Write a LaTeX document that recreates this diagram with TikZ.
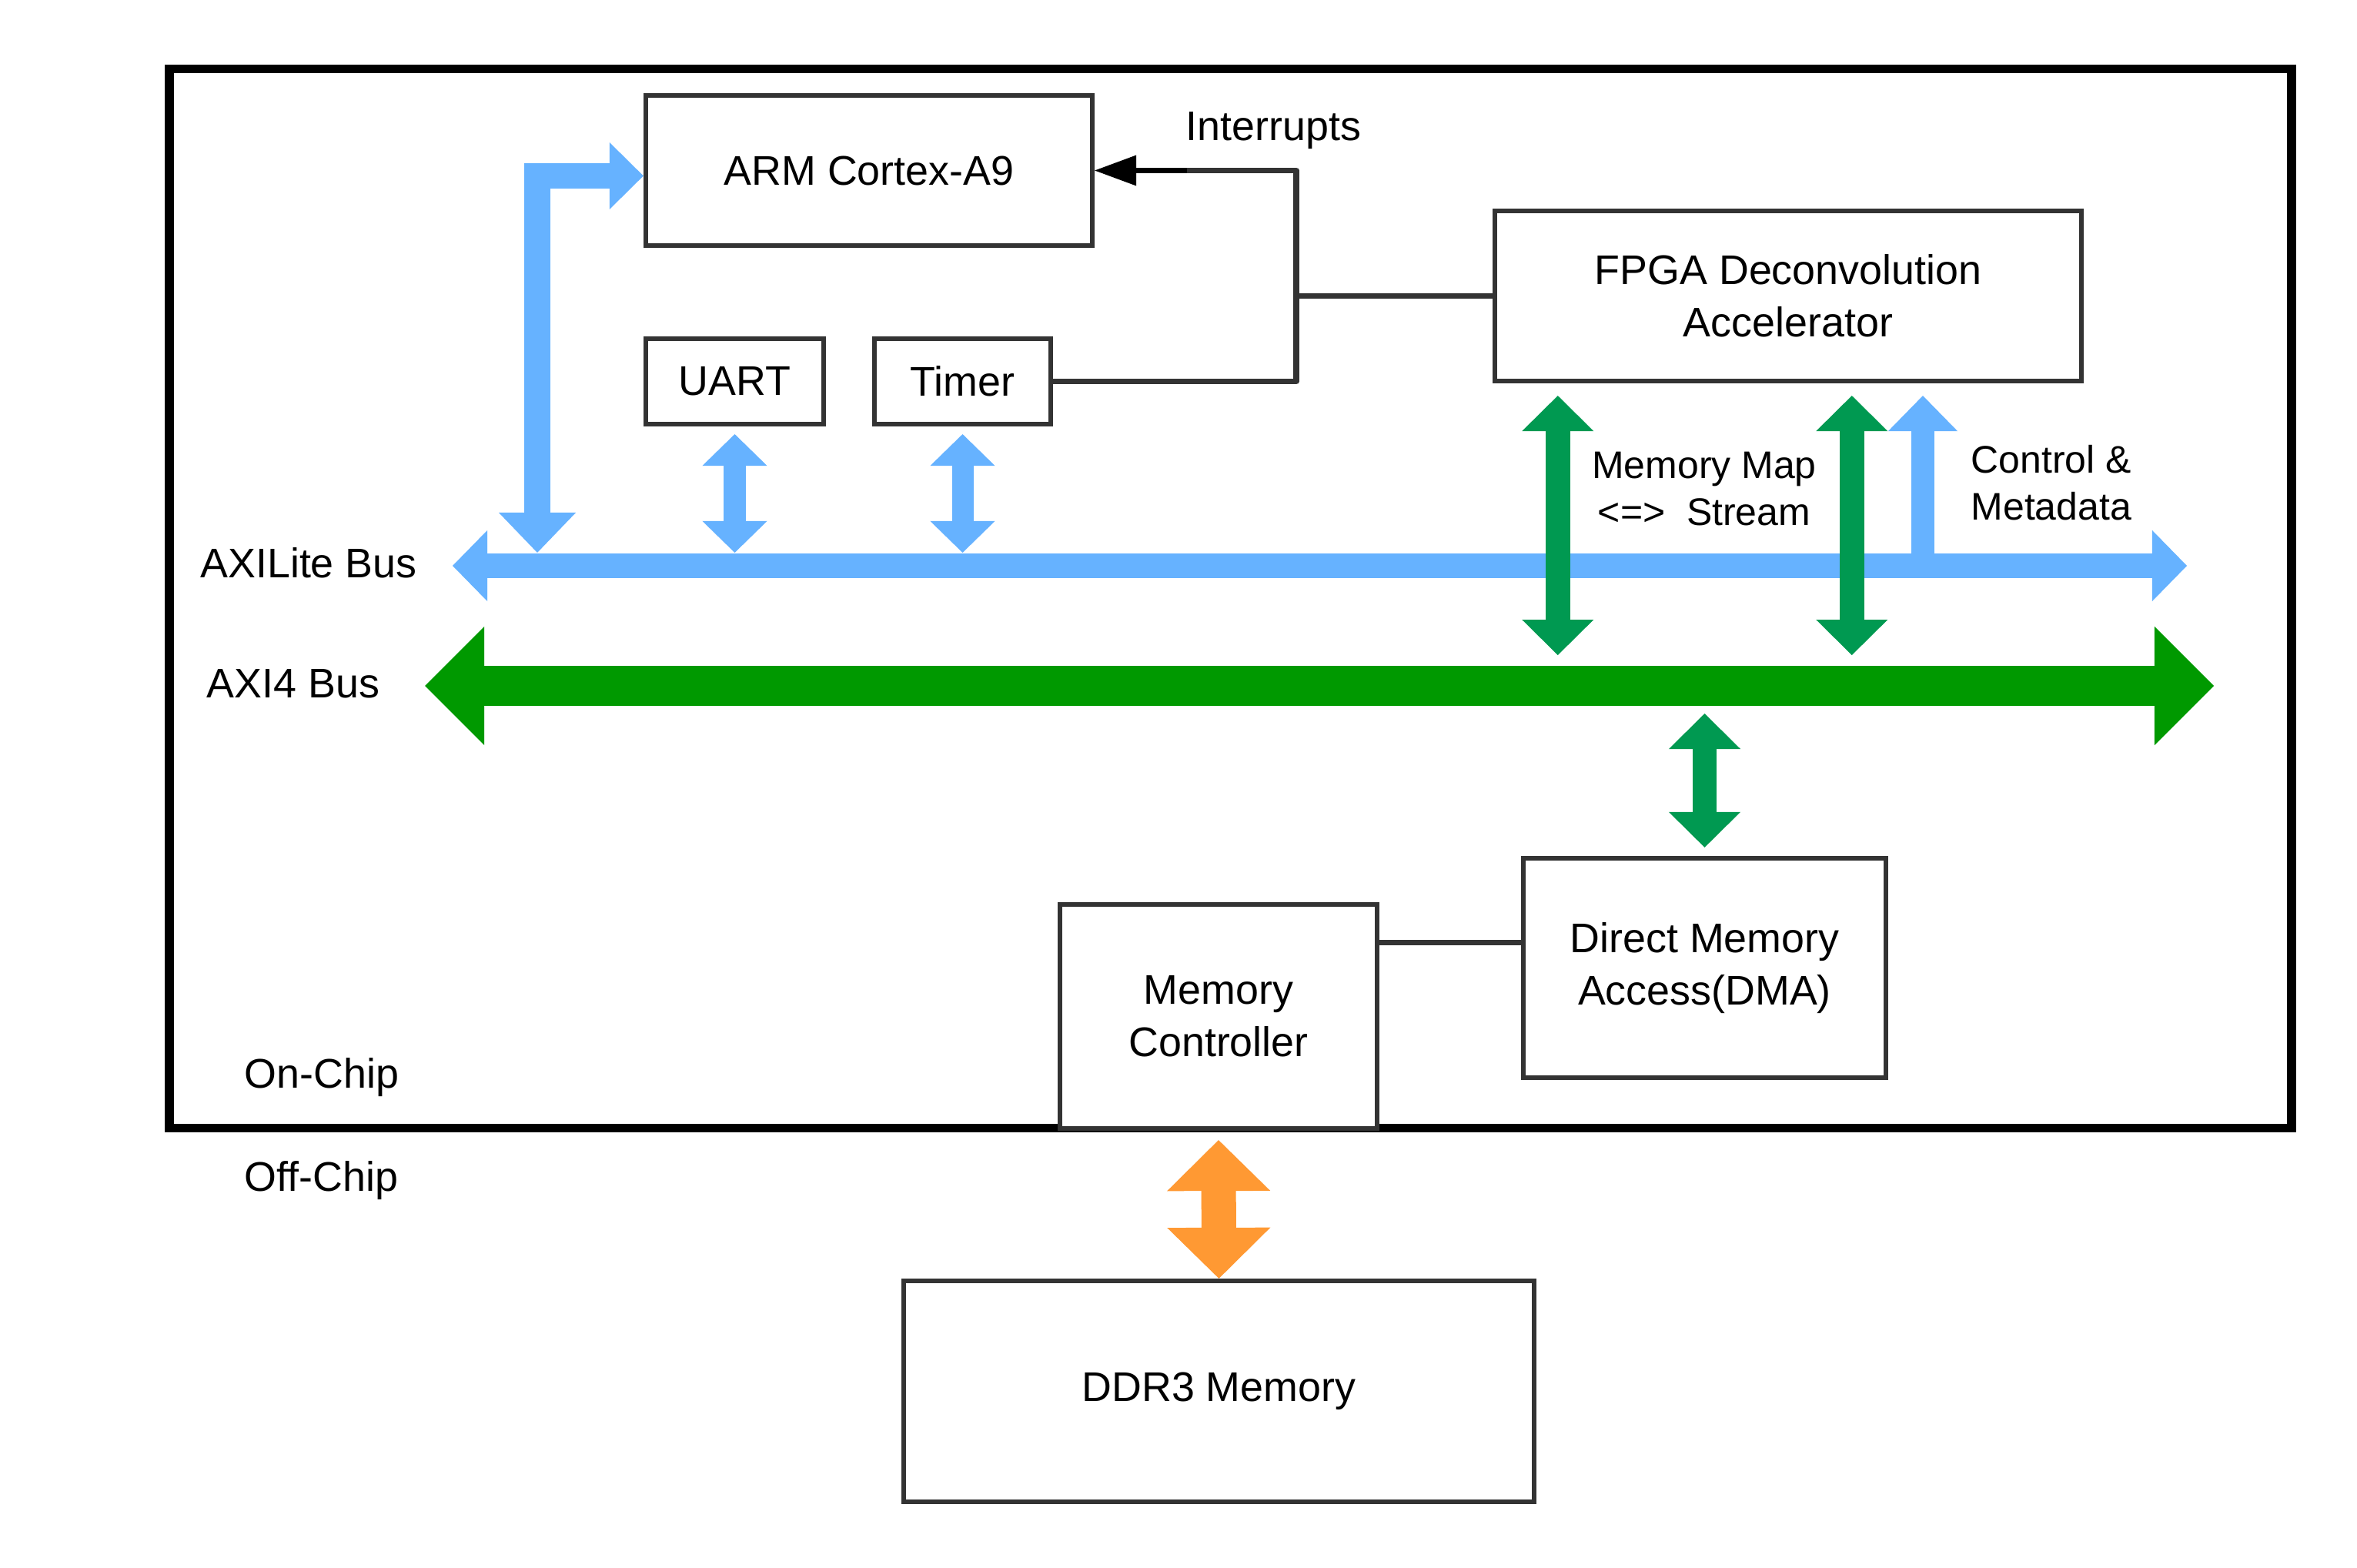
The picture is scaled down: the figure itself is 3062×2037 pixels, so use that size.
\documentclass[tikz,border=0pt]{standalone}
\usepackage{fontspec}
\setmainfont{Liberation Sans}
\usetikzlibrary{arrows.meta,calc}
\definecolor{boxgray}{HTML}{333333}
\definecolor{liteblue}{HTML}{66B2FF}
\definecolor{axigreen}{HTML}{009900}
\definecolor{mmgreen}{HTML}{009951}
\definecolor{ddrorange}{HTML}{FF9933}
\newcommand{\mainsz}{\fontsize{15.3pt}{19.2pt}\selectfont}
\newcommand{\smallsz}{\fontsize{14.2pt}{17.6pt}\selectfont}
\tikzset{
  box/.style={draw=boxgray, line width=0.06cm, fill=white, align=center, inner sep=0pt, font=\mainsz},
  wire/.style={draw=boxgray, line width=0.075cm, line join=round},
  lbl/.style={inner sep=0pt, font=\mainsz},
  slbl/.style={inner sep=0pt, font=\smallsz},
  chipbox/.style={draw=black, line width=0.115cm, inner sep=0pt},
  litebus/.style={draw=liteblue, line width=0.32cm,
    arrows={Triangle[length=0.45cm,width=0.92cm,line width=0pt]-Triangle[length=0.45cm,width=0.92cm,line width=0pt]}},
  axibus/.style={draw=axigreen, line width=0.52cm,
    arrows={Triangle[length=0.77cm,width=1.54cm,line width=0pt]-Triangle[length=0.77cm,width=1.54cm,line width=0pt]}},
  armarrow/.style={draw=liteblue, line width=0.33cm, line join=miter,
    arrows={Triangle[length=0.52cm,width=1.0cm,line width=0pt]-Triangle[length=0.44cm,width=0.87cm,line width=0pt]}},
  periph/.style={draw=liteblue, line width=0.28cm,
    arrows={Triangle[length=0.41cm,width=0.84cm,line width=0pt]-Triangle[length=0.41cm,width=0.84cm,line width=0pt]}},
  ctlarrow/.style={draw=liteblue, line width=0.30cm,
    arrows={-Triangle[length=0.46cm,width=0.90cm,line width=0pt]}},
  mmarrow/.style={draw=mmgreen, line width=0.315cm,
    arrows={Triangle[length=0.46cm,width=0.93cm,line width=0pt]-Triangle[length=0.46cm,width=0.93cm,line width=0pt]}},
  ddrarrow/.style={draw=ddrorange, line width=0.45cm,
    arrows={Triangle[length=0.66cm,width=1.34cm,line width=0pt]-Triangle[length=0.66cm,width=1.34cm,line width=0pt]}},
}
\begin{document}
\begin{tikzpicture}[x=0.01cm,y=-0.01cm]
\useasboundingbox (0,0) rectangle (3062,2037);
\fill[white] (0,0) rectangle (3062,2037);

% chip border
\node[chipbox, minimum width=27.55cm, minimum height=13.75cm] (chip) at (1598.5,777.5) {};

% buses
\coordinate (axl) at (588,735);
\coordinate (axr) at (2841,735);
\coordinate (a4l) at (552,891);
\coordinate (a4r) at (2876,891);
\coordinate (a4low) at (552,927);
\coordinate (armb) at (698,718);
\coordinate (ctlb) at (2498,735);

\draw[litebus] (axl) -- (axr);
\draw[axibus] (a4l) -- (a4r);

% boxes
\node[box, minimum width=5.80cm, minimum height=1.95cm] (arm) at (1129,221.5) {ARM Cortex-A9};
\node[box, minimum width=2.31cm, minimum height=1.11cm] (uart) at (954.5,495.5) {UART};
\node[box, minimum width=2.29cm, minimum height=1.11cm] (timer) at (1250.5,495.5) {Timer};
\node[box, minimum width=7.62cm, minimum height=2.21cm] (fpga) at (2323,384.5) {FPGA Deconvolution\\Accelerator};
\node[box, minimum width=4.12cm, minimum height=2.91cm] (mc) at (1583,1320.5) {Memory\\Controller};
\node[box, minimum width=4.71cm, minimum height=2.85cm] (dma) at (2214.5,1257.5) {Direct Memory\\Access(DMA)};
\node[box, minimum width=8.19cm, minimum height=2.87cm] (ddr) at (1583.5,1807.5) {DDR3 Memory};

\coordinate (fpgab) at ($(fpga.south west)+(0,16)$);

% blue arrows
\draw[armarrow] (armb) |- ($(arm.west)+(0,7)$);
\draw[periph] ($(uart.south)+(0,10)$) -- (uart.south |- armb);
\draw[periph] ($(timer.south)+(0,10)$) -- (timer.south |- armb);
\draw[ctlarrow] (ctlb) -- (ctlb |- fpgab);

% green arrows
\draw[mmarrow] ($(fpga.south west)+(85,16)$) -- ($(fpga.south west)+(85,353)$);
\draw[mmarrow] ($(fpga.south west)+(467,16)$) -- ($(fpga.south west)+(467,353)$);
\draw[mmarrow] (a4low -| dma.north) -- ($(dma.north)+(0,-11)$);

% orange arrow
\draw[ddrarrow] ($(mc.south)+(0,12)$) -- (ddr.north);

% wires
\coordinate (irq) at (1684,221.5);
\coordinate (irqk) at (1542,221.5);
\draw[wire] (timer.east) -| (irq) -- (irqk);
\draw[wire, draw=black, -{Triangle[length=0.54cm,width=0.40cm,line width=0pt]}] (irqk) -- (arm.east);
\draw[wire] (fpga.west) -- (fpga.west -| irq);
\coordinate (mcd) at ($(dma.west)+(0,-33)$);
\draw[wire] (mcd) -- (mcd -| mc.east);

% labels
\node[lbl, anchor=base west] (intl) at (1540,183) {Interrupts};
\node[lbl, anchor=base] (axill) at (401,751) {AXILite Bus};
\node[lbl, anchor=base] (axi4l) at (381,907) {AXI4 Bus};
\node[lbl, anchor=base west] (onl) at (317,1413) {On-Chip};
\node[lbl, anchor=base west] (offl) at (317,1547) {Off-Chip};
\node[slbl, anchor=base, align=center] (mml) at (2214,683) {Memory Map\\<=>\ \ Stream};
\node[slbl, anchor=base west, align=left] (ctll) at (2560,676) {Control \&\\Metadata};
\end{tikzpicture}
\end{document}
